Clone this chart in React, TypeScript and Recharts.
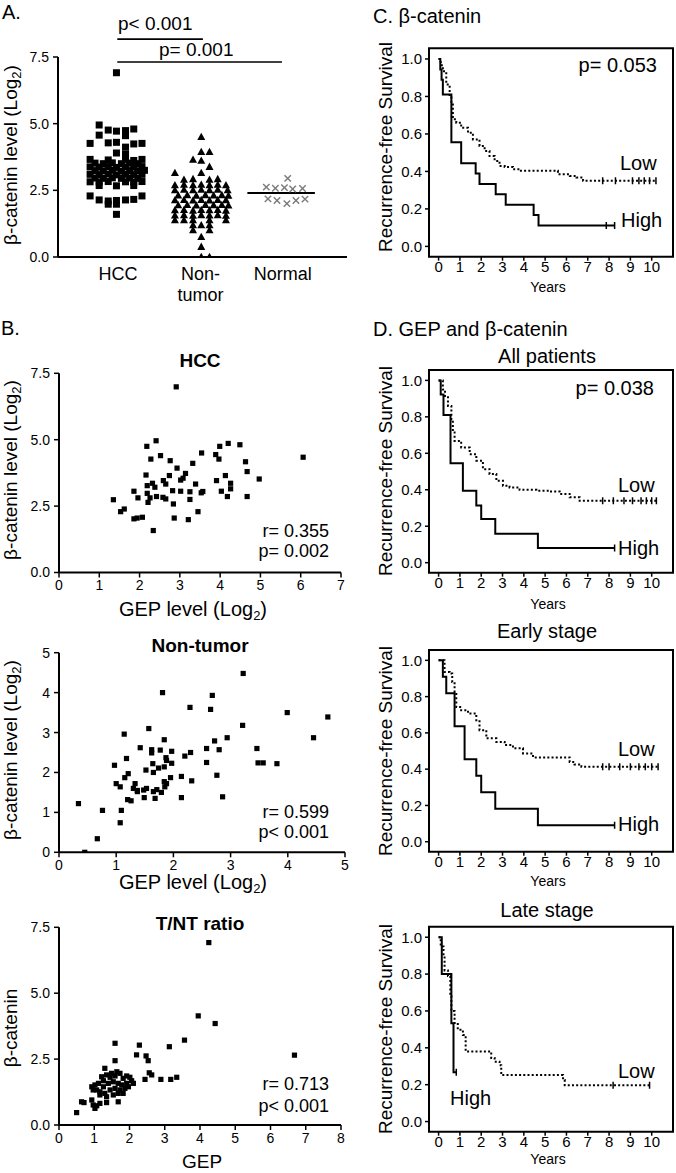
import React from 'react';
import {
  ScatterChart,
  Scatter,
  XAxis,
  YAxis,
  ReferenceLine,
  ReferenceArea,
  ComposedChart,
  Line,
} from 'recharts';

const FONT = '"Liberation Sans", Arial, Helvetica, sans-serif';

// ---------------- Panel A : beta-catenin levels by tissue ----------------
const categories = ['HCC', 'Non-tumor', 'Normal'];
const categoryLines = [['HCC'], ['Non-', 'tumor'], ['Normal']];
const levelTicksA = [0, 2.5, 5, 7.5];
// [offset within category column, level]
const hccSwarm: [number, number][] = [
  [-0.02, 6.91], [-0.23, 4.95],
  [-0.12, 4.76], [-0.02, 4.72], [0.09, 4.74], [0.19, 4.8],
  [-0.23, 4.57], [0.09, 4.55],
  [-0.34, 4.26], [-0.12, 4.28], [-0.02, 4.3], [0.19, 4.24], [0.29, 4.26],
  [0.09, 4.12], [-0.02, 3.9], [0.09, 3.86],
  [-0.34, 3.66], [-0.12, 3.64], [0.09, 3.66], [0.19, 3.62], [0.29, 3.66],
  [-0.28, 3.52], [-0.18, 3.5], [-0.07, 3.53], [0.04, 3.5], [0.14, 3.52], [0.24, 3.5],
  [-0.34, 3.38], [-0.23, 3.37], [-0.12, 3.39], [-0.02, 3.36], [0.09, 3.38], [0.19, 3.37], [0.29, 3.39],
  [-0.28, 3.24], [-0.18, 3.23], [-0.07, 3.25], [0.04, 3.22], [0.14, 3.24], [0.24, 3.23], [0.32, 3.25],
  [-0.34, 3.1], [-0.23, 3.09], [-0.12, 3.11], [-0.02, 3.08], [0.09, 3.1], [0.19, 3.09], [0.29, 3.1],
  [-0.28, 2.96], [-0.18, 2.95], [-0.07, 2.97], [0.04, 2.95], [0.14, 2.96], [0.24, 2.95],
  [-0.34, 2.82], [-0.23, 2.81], [-0.12, 2.83], [0.09, 2.82], [0.19, 2.81], [0.29, 2.83],
  [-0.23, 2.68], [-0.02, 2.67], [0.19, 2.68],
  [-0.34, 2.29], [0.29, 2.29], [-0.23, 2.14], [-0.12, 2.1], [-0.02, 2.12], [0.09, 2.14], [0.19, 2.16],
  [-0.12, 1.98], [-0.02, 1.98], [-0.02, 1.6],
];
const nonTumorSwarm: [number, number][] = [
  [0.01, 4.51], [0.01, 3.95], [0.11, 3.95], [-0.09, 3.66], [0.01, 3.62], [0.11, 3.39],
  [-0.31, 3.16], [0.01, 3.16],
  [-0.2, 2.91], [-0.09, 2.93], [0.11, 2.91], [0.21, 2.93],
  [-0.31, 2.7], [-0.2, 2.72], [-0.09, 2.7], [0.01, 2.72], [0.11, 2.7], [0.21, 2.72], [0.31, 2.7],
  [-0.31, 2.51], [-0.2, 2.53], [-0.09, 2.51], [0.01, 2.53], [0.11, 2.51], [0.21, 2.53], [0.33, 2.51],
  [-0.27, 2.32], [-0.16, 2.33], [-0.05, 2.31], [0.06, 2.33], [0.16, 2.32], [0.26, 2.33], [0.34, 2.31],
  [-0.31, 2.14], [-0.2, 2.15], [-0.09, 2.13], [0.01, 2.15], [0.11, 2.13], [0.21, 2.15], [0.31, 2.14],
  [-0.27, 1.95], [-0.16, 1.96], [-0.05, 1.94], [0.06, 1.96], [0.16, 1.95], [0.26, 1.96], [0.34, 1.94],
  [-0.31, 1.76], [-0.2, 1.77], [-0.09, 1.75], [0.01, 1.77], [0.11, 1.76], [0.21, 1.77], [0.31, 1.75],
  [-0.31, 1.57], [-0.2, 1.58], [-0.09, 1.56], [0.01, 1.58], [0.11, 1.57], [0.21, 1.58], [0.31, 1.56],
  [-0.31, 1.39], [-0.2, 1.39], [-0.09, 1.39], [0.11, 1.39], [0.31, 1.39],
  [-0.09, 1.2], [0.01, 1.2], [0.11, 1.2], [-0.09, 1.01], [0.11, 1.01],
  [0.01, 0.76], [0.01, 0.39], [0.01, 0.01], [0.11, 0.01],
];
const normalSwarm: [number, number][] = [
  [0.06, 2.95], [-0.2, 2.62], [-0.09, 2.58], [0.02, 2.6], [0.12, 2.55], [0.24, 2.57],
  [-0.18, 2.18], [-0.07, 2.12], [0.05, 2.0], [0.16, 2.12], [0.27, 2.17],
];
const normalMedian = 2.4;
const sigBars = [
  { from: 0.99, to: 2.03, y: 8.17 },
  { from: 0.99, to: 2.99, y: 7.31 },
];

// ---------------- Panel B : correlations ----------------
const hccGep: [number, number][] = [
  [2.91, 6.99], [6.06, 4.34], [2.41, 4.96], [2.18, 4.75], [4.2, 4.86], [4.49, 4.81], [3.99, 4.75],
  [3.89, 4.44], [3.97, 4.27], [3.54, 4.5], [2.52, 4.4], [2.76, 4.21], [2.28, 4.27], [3.32, 4.11],
  [4.63, 4.17], [4.67, 3.8], [2.93, 3.93], [2.16, 3.67], [3.14, 3.73], [2.74, 3.65], [2.59, 3.46],
  [3.02, 3.48], [3.08, 3.55], [3.91, 3.46], [4.13, 3.65], [4.26, 3.36], [4.97, 3.52], [3.39, 3.33],
  [2.32, 3.36], [2.38, 3.21], [2.19, 3.27], [2.65, 3.33], [2.82, 3.08], [3.02, 3.06], [3.25, 3.04],
  [3.53, 3.0], [3.57, 3.05], [4.03, 3.06], [4.26, 3.15], [4.18, 2.86], [4.67, 2.86], [1.86, 3.06],
  [1.96, 2.81], [2.19, 2.98], [2.26, 2.81], [2.42, 2.86], [2.58, 2.83], [2.65, 2.77], [2.21, 2.64],
  [2.84, 2.58], [3.25, 2.75], [1.35, 2.74], [1.62, 2.39], [1.53, 2.29], [3.45, 2.29], [1.86, 2.02],
  [1.94, 2.05], [2.07, 2.08], [2.86, 2.05], [3.21, 1.99], [2.34, 1.58],
];
const nonTumorGep: [number, number][] = [
  [3.22, 4.48], [1.81, 4.0], [2.68, 3.93], [2.65, 3.58], [2.29, 3.63], [3.99, 3.5], [4.7, 3.39],
  [3.21, 3.18], [1.57, 3.1], [1.14, 2.96], [1.84, 2.82], [2.72, 2.79], [2.94, 2.87], [4.45, 2.87],
  [1.42, 2.62], [1.62, 2.57], [1.77, 2.56], [1.97, 2.53], [1.62, 2.49], [2.3, 2.5], [2.58, 2.6],
  [2.8, 2.57], [3.46, 2.6], [2.2, 2.41], [1.87, 2.37], [1.18, 2.35], [1.88, 2.3], [1.64, 2.22],
  [1.97, 2.23], [2.58, 2.25], [3.48, 2.24], [3.57, 2.24], [3.81, 2.22], [0.97, 2.18], [1.52, 2.06],
  [1.74, 2.11], [1.84, 2.14], [1.65, 2.0], [1.21, 1.97], [1.15, 1.87], [2.14, 1.9], [1.95, 1.87],
  [2.76, 1.93], [2.32, 1.79], [1.84, 1.77], [1.0, 1.72], [1.07, 1.64], [1.33, 1.72], [1.85, 1.64],
  [1.71, 1.57], [1.53, 1.6], [1.3, 1.6], [1.37, 1.52], [1.48, 1.56], [1.65, 1.52], [1.88, 1.72],
  [0.34, 1.22], [0.76, 1.05], [1.09, 1.05], [1.07, 0.74], [0.67, 0.34], [0.45, 0.0], [1.2, 1.32],
  [1.26, 1.29], [1.49, 1.37], [1.68, 1.35], [2.14, 1.37], [2.86, 1.39], [1.37, 1.55], [1.79, 1.5],
];
const ratioGep: [number, number][] = [
  [4.25, 6.92], [3.95, 4.14], [4.43, 3.85], [3.56, 3.22], [3.13, 2.97], [1.59, 3.1], [2.28, 3.03],
  [2.2, 2.66], [2.47, 2.62], [2.53, 2.44], [1.59, 2.44], [6.68, 2.65], [1.3, 2.15], [2.56, 1.98],
  [2.63, 1.9], [2.44, 1.73], [2.89, 1.73], [3.17, 1.73], [3.34, 1.81],
  [1.21, 1.83], [1.26, 1.68], [1.35, 1.9], [1.45, 1.81], [1.49, 1.96], [1.59, 1.86], [1.64, 2.02],
  [1.73, 1.96], [1.82, 1.77], [1.92, 1.86], [2.01, 1.81], [2.06, 1.68], [2.11, 1.58], [1.92, 1.58],
  [1.78, 1.52], [1.68, 1.58], [1.54, 1.64], [1.4, 1.58], [1.26, 1.45], [1.12, 1.58], [1.02, 1.52],
  [0.93, 1.45], [1.07, 1.33], [1.16, 1.26], [1.3, 1.2], [1.45, 1.33], [1.59, 1.39], [1.73, 1.33],
  [1.87, 1.39], [1.97, 1.45], [1.82, 1.2], [1.68, 1.2], [1.54, 1.14], [1.35, 1.07], [1.16, 1.14],
  [0.97, 1.33], [0.64, 0.88], [0.71, 0.85], [0.93, 0.95], [0.97, 0.76], [1.02, 0.63], [1.07, 0.73],
  [1.16, 0.82], [1.35, 0.85], [1.68, 0.88], [0.5, 0.47],
];
const gepTicksHcc = [0, 1, 2, 3, 4, 5, 6, 7];
const gepTicksNon = [0, 1, 2, 3, 4, 5];
const gepTicksRatio = [0, 1, 2, 3, 4, 5, 6, 7, 8];
const levelTicks75 = [0, 2.5, 5, 7.5];
const levelTicks5 = [0, 1, 2, 3, 4, 5];

// ---------------- Panels C / D : recurrence-free survival ----------------
const kmYears = [0, 1, 2, 3, 4, 5, 6, 7, 8, 9, 10];
const survTicks = [0, 0.2, 0.4, 0.6, 0.8, 1.0];

const cHigh: [number, number][] = [
  [0, 1], [0.08, 0.944], [0.14, 0.889], [0.2, 0.81], [0.6, 0.556], [1.06, 0.444], [1.74, 0.389],
  [1.92, 0.333], [2.68, 0.278], [3.15, 0.222], [4.46, 0.167], [4.69, 0.111], [8.26, 0.111],
];
const cHighCensor = [7.87, 8.26];
const cLow: [number, number][] = [
  [0, 1], [0.1, 0.967], [0.2, 0.934], [0.36, 0.864], [0.52, 0.8], [0.6, 0.757], [0.67, 0.678],
  [0.83, 0.66], [1.06, 0.633], [1.38, 0.606], [1.61, 0.571], [1.92, 0.536], [2.16, 0.509],
  [2.39, 0.482], [2.63, 0.456], [2.86, 0.429], [3.1, 0.424], [3.49, 0.412], [3.8, 0.403],
  [5.6, 0.385], [6.16, 0.376], [6.47, 0.367], [6.78, 0.35], [10.2, 0.35],
];
const cLowCensor = [7.7, 8.3, 9.1, 9.4, 9.65, 9.9, 10.2];

const allHigh: [number, number][] = [
  [0, 1], [0.1, 0.923], [0.23, 0.81], [0.56, 0.546], [1.14, 0.395], [1.77, 0.313], [2.0, 0.24],
  [2.66, 0.158], [4.66, 0.08], [8.26, 0.08],
];
const allHighCensor = [8.26];
const allLow: [number, number][] = [
  [0, 1], [0.2, 0.95], [0.3, 0.914], [0.44, 0.86], [0.6, 0.787], [0.67, 0.714], [0.75, 0.668],
  [1.06, 0.632], [1.46, 0.595], [1.77, 0.559], [2.08, 0.513], [2.39, 0.486], [2.71, 0.449],
  [3.02, 0.422], [3.33, 0.413], [3.8, 0.4], [4.59, 0.395], [5.21, 0.39], [5.68, 0.377],
  [6.15, 0.359], [6.62, 0.34], [10.22, 0.34],
];
const allLowCensor = [7.7, 8.2, 8.7, 9.1, 9.5, 9.75, 10.0, 10.22];

const earlyHigh: [number, number][] = [
  [0, 1], [0.2, 0.909], [0.36, 0.818], [0.75, 0.636], [1.22, 0.455], [1.77, 0.364], [2.0, 0.273],
  [2.66, 0.182], [4.66, 0.091], [8.26, 0.091],
];
const earlyHighCensor = [8.26];
const earlyLow: [number, number][] = [
  [0, 1], [0.28, 0.936], [0.52, 0.927], [0.64, 0.88], [0.75, 0.826], [0.83, 0.743], [1.06, 0.725],
  [1.38, 0.707], [1.77, 0.67], [1.92, 0.615], [2.24, 0.57], [2.71, 0.55], [3.1, 0.533],
  [3.49, 0.515], [3.96, 0.487], [4.43, 0.465], [6.15, 0.44], [6.38, 0.426], [6.7, 0.413],
  [10.3, 0.413],
];
const earlyLowCensor = [7.7, 8.0, 8.5, 9.0, 9.4, 9.7, 10.0, 10.3];

const lateHigh: [number, number][] = [
  [0, 1], [0.15, 0.8], [0.6, 0.533], [0.7, 0.267], [0.83, 0.267],
];
const lateHighCensor = [0.83];
const lateLow: [number, number][] = [
  [0, 1], [0.1, 0.95], [0.23, 0.9], [0.28, 0.82], [0.44, 0.79], [0.55, 0.68], [0.6, 0.6],
  [0.75, 0.535], [0.9, 0.498], [1.14, 0.47], [1.27, 0.38], [2.47, 0.345], [2.63, 0.325],
  [2.86, 0.306], [2.94, 0.252], [5.84, 0.225], [5.92, 0.197], [9.9, 0.197],
];
const lateLowCensor = [8.19, 9.9];

// ---------------- helpers ----------------
const toXY = (arr: [number, number][]) => arr.map(([x, y]) => ({ x, y }));
const toSwarm = (arr: [number, number][], pos: number) => arr.map(([d, y]) => ({ x: pos + d, y }));
const toTS = (arr: [number, number][]) => arr.map(([t, s]) => ({ t, s }));
const censorPts = (times: number[], curve: [number, number][]) =>
  times.map((t) => {
    let s = curve[0][1];
    for (const [ct, cs] of curve) if (ct <= t) s = cs;
    return { t, s };
  });

const BigSquare = (p: any) => <rect x={p.cx - 3.5} y={p.cy - 3.5} width={7} height={7} fill="#000" />;
const SmallSquare = (p: any) => <rect x={p.cx - 2.6} y={p.cy - 2.6} width={5.2} height={5.2} fill="#000" />;
const Triangle = (p: any) => (
  <polygon points={`${p.cx},${p.cy - 4} ${p.cx - 4},${p.cy + 3.3} ${p.cx + 4},${p.cy + 3.3}`} fill="#000" />
);
const Cross = (p: any) => (
  <g stroke="#7a7a7a" strokeWidth={1.4}>
    <line x1={p.cx - 3.2} y1={p.cy - 3.2} x2={p.cx + 3.2} y2={p.cy + 3.2} />
    <line x1={p.cx - 3.2} y1={p.cy + 3.2} x2={p.cx + 3.2} y2={p.cy - 3.2} />
  </g>
);
const CensorTick = (p: any) => <line x1={p.cx} y1={p.cy - 3.5} x2={p.cx} y2={p.cy + 3.5} stroke="#000" strokeWidth={1.5} />;

const CatTick = (props: any) => {
  const { x, y, payload } = props;
  const idx = Math.round(payload.value) - 1;
  const lines = categoryLines[idx] || [categories[idx]];
  return (
    <text x={x} y={y} textAnchor="middle" fontSize={18} fill="#000">
      {lines.map((l, i) => (
        <tspan key={i} x={x} dy={i === 0 ? 23 : 21}>
          {l}
        </tspan>
      ))}
    </text>
  );
};

const axisLine = { stroke: '#000', strokeWidth: 2 };
const tickLine = { stroke: '#000', strokeWidth: 1.5 };
const tickFont = { fontSize: 14, fill: '#000' };
const kmTickFont = { fontSize: 15, fill: '#000' };

function ScatterPanel(props: any) {
  const { top, height, mTop, mBottom, mRight, data, xMax, xTicks, yMax, yTicks, yFmt } = props;
  return (
    <div style={{ position: 'absolute', left: 0, top, width: 360, height }}>
      <ScatterChart width={360} height={height} margin={{ top: mTop, right: mRight, bottom: mBottom, left: 0 }}>
        <XAxis type="number" dataKey="x" domain={[0, xMax]} ticks={xTicks} interval={0} allowDataOverflow
          axisLine={axisLine} tickLine={tickLine} tickSize={5} tickMargin={3} tick={tickFont} height={30} />
        <YAxis type="number" dataKey="y" domain={[0, yMax]} ticks={yTicks} interval={0} allowDataOverflow
          axisLine={axisLine} tickLine={tickLine} tickSize={5} tickMargin={4} tick={tickFont} width={59}
          tickFormatter={yFmt} />
        <Scatter data={toXY(data)} dataKey="y" shape={SmallSquare} isAnimationActive={false} />
      </ScatterChart>
    </div>
  );
}

function KMPanel(props: any) {
  const { top, height, mTop, mBottom, high, low, highCens, lowCens } = props;
  const xDom = [-0.45, 11];
  const yDom = [-0.055, 1.057];
  return (
    <div style={{ position: 'absolute', left: 380, top, width: 296, height }}>
      <ComposedChart width={296} height={height} margin={{ top: mTop, right: 3, bottom: mBottom, left: 0 }}>
        <XAxis type="number" dataKey="t" domain={xDom} ticks={kmYears} interval={0} allowDataOverflow
          axisLine={false} tickLine={tickLine} tickSize={4} tickMargin={1} tick={kmTickFont} height={30} />
        <YAxis type="number" dataKey="s" domain={yDom} ticks={survTicks} interval={0} allowDataOverflow
          axisLine={false} tickLine={tickLine} tickSize={4} tickMargin={3} tick={kmTickFont} width={49}
          tickFormatter={(v: number) => v.toFixed(1)} />
        <ReferenceArea x1={xDom[0]} x2={xDom[1]} y1={yDom[0]} y2={yDom[1]} fill="none" fillOpacity={0}
          stroke="#000" strokeWidth={2} ifOverflow="visible" />
        <Line data={toTS(low)} dataKey="s" type="stepAfter" stroke="#000" strokeWidth={2}
          strokeDasharray="2 2.2" dot={false} isAnimationActive={false} />
        <Line data={toTS(high)} dataKey="s" type="stepAfter" stroke="#000" strokeWidth={2}
          dot={false} isAnimationActive={false} />
        <Scatter data={censorPts(lowCens, low)} dataKey="s" shape={CensorTick} isAnimationActive={false} />
        <Scatter data={censorPts(highCens, high)} dataKey="s" shape={CensorTick} isAnimationActive={false} />
      </ComposedChart>
    </div>
  );
}

const T = (p: any) => (
  <text x={p.x} y={p.y} fontSize={p.size || 18} textAnchor={p.anchor || 'start'} fontWeight={p.weight || 'normal'}
    transform={p.rot ? `rotate(-90 ${p.x} ${p.y})` : undefined} fill="#000">
    {p.children}
  </text>
);
const Log2 = () => (
  <>
    {'(Log'}
    <tspan dy={4} fontSize={13}>2</tspan>
    <tspan dy={-4}>)</tspan>
  </>
);

export default function App() {
  return (
    <div style={{ position: 'absolute', left: 0, top: 0, width: 676, height: 1173, background: '#fff', overflow: 'hidden', fontFamily: FONT }}>
      {/* Panel A */}
      <div style={{ position: 'absolute', left: 0, top: 0, width: 360, height: 330 }}>
        <ScatterChart width={360} height={330} margin={{ top: 57, right: 13, bottom: 30, left: 0 }}>
          <XAxis type="number" dataKey="x" domain={[0.27, 3.78]} ticks={[1, 2, 3]} interval={0} allowDataOverflow
            axisLine={axisLine} tickLine={false} tickSize={0} tickMargin={0} tick={CatTick} height={43} />
          <YAxis type="number" dataKey="y" domain={[0, 7.5]} ticks={levelTicksA} interval={0} allowDataOverflow
            axisLine={axisLine} tickLine={tickLine} tickSize={5} tickMargin={4} tick={tickFont} width={58}
            tickFormatter={(v: number) => v.toFixed(1)} />
          {sigBars.map((b, i) => (
            <ReferenceLine key={i} segment={[{ x: b.from, y: b.y }, { x: b.to, y: b.y }]} stroke="#000"
              strokeWidth={1.6} ifOverflow="visible" />
          ))}
          <ReferenceLine segment={[{ x: 2.57, y: normalMedian }, { x: 3.39, y: normalMedian }]} stroke="#000"
            strokeWidth={2.2} ifOverflow="visible" />
          <Scatter data={toSwarm(hccSwarm, 1)} dataKey="y" shape={BigSquare} isAnimationActive={false} />
          <Scatter data={toSwarm(nonTumorSwarm, 2)} dataKey="y" shape={Triangle} isAnimationActive={false} />
          <Scatter data={toSwarm(normalSwarm, 3)} dataKey="y" shape={Cross} isAnimationActive={false} />
        </ScatterChart>
      </div>

      {/* Panel B */}
      <ScatterPanel top={330} height={280} mTop={43.3} mBottom={7.5} mRight={19} data={hccGep} xMax={7}
        xTicks={gepTicksHcc} yMax={7.5} yTicks={levelTicks75} yFmt={(v: number) => v.toFixed(1)} />
      <ScatterPanel top={610} height={280} mTop={42.7} mBottom={7.7} mRight={15} data={nonTumorGep} xMax={5}
        xTicks={gepTicksNon} yMax={5} yTicks={levelTicks5} yFmt={(v: number) => String(v)} />
      <ScatterPanel top={890} height={283} mTop={37.3} mBottom={18} mRight={19} data={ratioGep} xMax={8}
        xTicks={gepTicksRatio} yMax={7.5} yTicks={levelTicks75} yFmt={(v: number) => v.toFixed(1)} />

      {/* Panels C and D */}
      <KMPanel top={0} height={300} mTop={48.3} mBottom={13.3} high={cHigh} low={cLow} highCens={cHighCensor} lowCens={cLowCensor} />
      <KMPanel top={330} height={280} mTop={40} mBottom={7.3} high={allHigh} low={allLow} highCens={allHighCensor} lowCens={allLowCensor} />
      <KMPanel top={610} height={280} mTop={40} mBottom={8.3} high={earlyHigh} low={earlyLow} highCens={earlyHighCensor} lowCens={earlyLowCensor} />
      <KMPanel top={890} height={283} mTop={36.7} mBottom={11.3} high={lateHigh} low={lateLow} highCens={lateHighCensor} lowCens={lateLowCensor} />

      {/* Text layer */}
      <svg width={676} height={1173} style={{ position: 'absolute', left: 0, top: 0, pointerEvents: 'none', fontFamily: FONT }}>
        {/* A */}
        <T x={2} y={19} size={20}>A.</T>
        <T x={118} y={30} size={19}>p&lt; 0.001</T>
        <T x={159} y={56} size={19}>p= 0.001</T>
        <T x={17} y={155} size={19} anchor="middle" rot>β-catenin level <Log2 /></T>
        {/* B */}
        <T x={1} y={335} size={20}>B.</T>
        <T x={200} y={367} size={19} anchor="middle" weight="bold">HCC</T>
        <T x={17} y={470} size={19} anchor="middle" rot>β-catenin level <Log2 /></T>
        <T x={329} y={537} size={18} anchor="end">r= 0.355</T>
        <T x={329} y={557} size={18} anchor="end">p= 0.002</T>
        <T x={193} y={616} size={20} anchor="middle">GEP level <Log2 /></T>
        <T x={200} y={652} size={19} anchor="middle" weight="bold">Non-tumor</T>
        <T x={17} y={750} size={19} anchor="middle" rot>β-catenin level <Log2 /></T>
        <T x={329} y={818} size={18} anchor="end">r= 0.599</T>
        <T x={329} y={838} size={18} anchor="end">p&lt; 0.001</T>
        <T x={193} y={889} size={20} anchor="middle">GEP level <Log2 /></T>
        <T x={200} y={930} size={19} anchor="middle" weight="bold">T/NT ratio</T>
        <T x={17} y={1028} size={19} anchor="middle" rot>β-catenin</T>
        <T x={329} y={1090} size={18} anchor="end">r= 0.713</T>
        <T x={329} y={1112} size={18} anchor="end">p&lt; 0.001</T>
        <T x={202} y={1168} size={19} anchor="middle">GEP</T>
        {/* C */}
        <T x={373} y={23} size={20}>C. β-catenin</T>
        <T x={392} y={147} size={19} anchor="middle" rot>Recurrence-free Survival</T>
        <T x={657} y={72} size={20} anchor="end">p= 0.053</T>
        <T x={620} y={170} size={20}>Low</T>
        <T x={621} y={227} size={20}>High</T>
        <T x={548} y={292} size={14} anchor="middle">Years</T>
        {/* D */}
        <T x={373} y={336} size={20}>D. GEP and β-catenin</T>
        <T x={547} y={363} size={20} anchor="middle">All patients</T>
        <T x={392} y={471} size={19} anchor="middle" rot>Recurrence-free Survival</T>
        <T x={654} y={395} size={20} anchor="end">p= 0.038</T>
        <T x={618} y={492} size={20}>Low</T>
        <T x={618} y={555} size={20}>High</T>
        <T x={548} y={609} size={14} anchor="middle">Years</T>
        <T x={547} y={638} size={20} anchor="middle">Early stage</T>
        <T x={392} y={751} size={19} anchor="middle" rot>Recurrence-free Survival</T>
        <T x={618} y={756} size={20}>Low</T>
        <T x={618} y={831} size={20}>High</T>
        <T x={548} y={886} size={14} anchor="middle">Years</T>
        <T x={547} y={917} size={20} anchor="middle">Late stage</T>
        <T x={392} y={1029} size={19} anchor="middle" rot>Recurrence-free Survival</T>
        <T x={618} y={1078} size={20}>Low</T>
        <T x={450} y={1105} size={20}>High</T>
        <T x={548} y={1164} size={14} anchor="middle">Years</T>
      </svg>
    </div>
  );
}
